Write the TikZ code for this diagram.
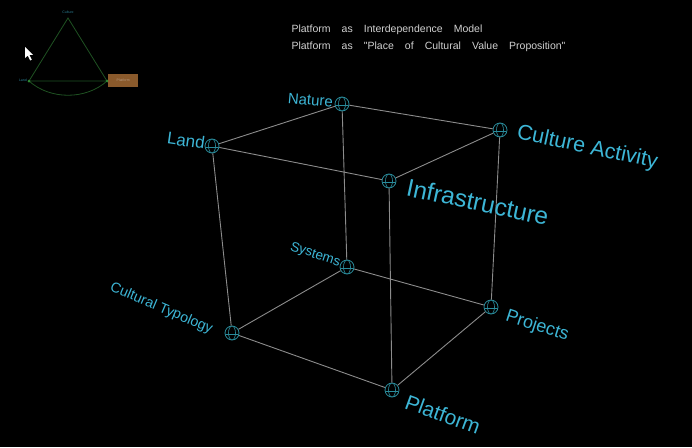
\documentclass[tikz,border=0pt]{standalone}
\usepackage{fontspec}
\setmainfont{Liberation Sans}
\newfontfamily\widefont[WordSpace=3.8]{Liberation Sans}
\definecolor{edgecol}{HTML}{8C8C8C}
\definecolor{lblcol}{HTML}{3DB6D6}
\definecolor{globecol}{HTML}{2A8C9C}
\definecolor{minigreen}{HTML}{1F5222}
\definecolor{minidot}{HTML}{2E8A33}
\definecolor{boxbrown}{HTML}{8A5A2C}
\newcommand{\fsz}[1]{\fontsize{#1}{#1}\selectfont}
\begin{document}
\begin{tikzpicture}[x=1pt,y=-1pt,
  vtx/.style={circle,draw=globecol,line width=0.8pt,minimum size=14pt,inner sep=0pt,
    path picture={
      \draw[globecol,line width=0.6pt] (path picture bounding box.center) ellipse (3.5pt and 7pt);
      \draw[globecol,line width=0.6pt] ([yshift=-1pt]path picture bounding box.west) -- ([yshift=-1pt]path picture bounding box.east);}},
  lbl/.style={text=lblcol,inner sep=0pt},
  cube/.style={draw=edgecol,line width=0.9pt},
  mini/.style={draw=minigreen,line width=0.8pt}]

\fill[black] (0,0) rectangle (692,447);

% heading
\node[anchor=west,text=white!82!black,font=\widefont\fsz{10.5}] (head1) at (288,30) {Platform as Interdependence Model};
\node[anchor=west,text=white!82!black,font=\widefont\fsz{10.5}] (head2) at (288,47) {Platform as "Place of Cultural Value Proposition"};

% small triangle
\coordinate (ttop) at (68,18);
\coordinate (tleft) at (29,81);
\coordinate (tright) at (107,81);
\draw[mini] (ttop) -- (tleft) -- (tright) -- cycle;
\draw[mini] (tleft) .. controls (50,100) and (86,100) .. (tright);
\fill[minidot] (tleft) circle (1.5pt) (tright) circle (1.5pt);
\node[lbl,font=\fsz{3.5},text=lblcol!70!black] (ttoplbl) at (68,12) {Culture};
\node[lbl,font=\fsz{3.5},text=lblcol!70!black,anchor=east] (tleftlbl) at (27,80) {Land};
\node[fill=boxbrown,minimum width=30pt,minimum height=13pt,inner sep=0pt,anchor=west,
  font=\fsz{3.5},text=boxbrown!60!white] (tbox) at (108,80.5) {Platform};

% pointer
\fill[white] (25,47) -- (25,58) -- (27.8,55.6) -- (30.2,60.5) -- (31.8,59.7) -- (29.5,55) -- (33,54.8) -- cycle;

% cube corners
\node[vtx] (land)     at (212,146) {};
\node[vtx] (nature)   at (342,104) {};
\node[vtx] (culture)  at (500,130) {};
\node[vtx] (infra)    at (389,181) {};
\node[vtx] (systems)  at (347,267) {};
\node[vtx] (typology) at (232,333) {};
\node[vtx] (projects) at (491,307) {};
\node[vtx] (platform) at (392,390) {};

% cube edges
\draw[cube] (land) -- (nature) -- (culture) -- (infra) -- (land);
\draw[cube] (typology) -- (systems) -- (projects) -- (platform) -- (typology);
\draw[cube] (land) -- (typology);
\draw[cube] (nature) -- (systems);
\draw[cube] (culture) -- (projects);
\draw[cube] (infra) -- (platform);

% labels
\node[lbl,font=\fsz{17},anchor=east,rotate=-8]  at (205,143) {Land};
\node[lbl,font=\fsz{15},anchor=east,rotate=-5] at (333,102) {Nature};
\node[lbl,font=\fsz{21.5},anchor=west,rotate=-12] at (517,133) {Culture Activity};
\node[lbl,font=\fsz{24.5},anchor=west,rotate=-12] at (407,187) {Infrastructure};
\node[lbl,font=\fsz{13.5},anchor=east,rotate=-18] at (340,263) {Systems};
\node[lbl,font=\fsz{14.2},anchor=east,rotate=-23] at (212,330) {Cultural Typology};
\node[lbl,font=\fsz{18},anchor=west,rotate=-18] at (506,316) {Projects};
\node[lbl,font=\fsz{21},anchor=west,rotate=-20] at (406,401) {Platform};

\end{tikzpicture}
\end{document}
